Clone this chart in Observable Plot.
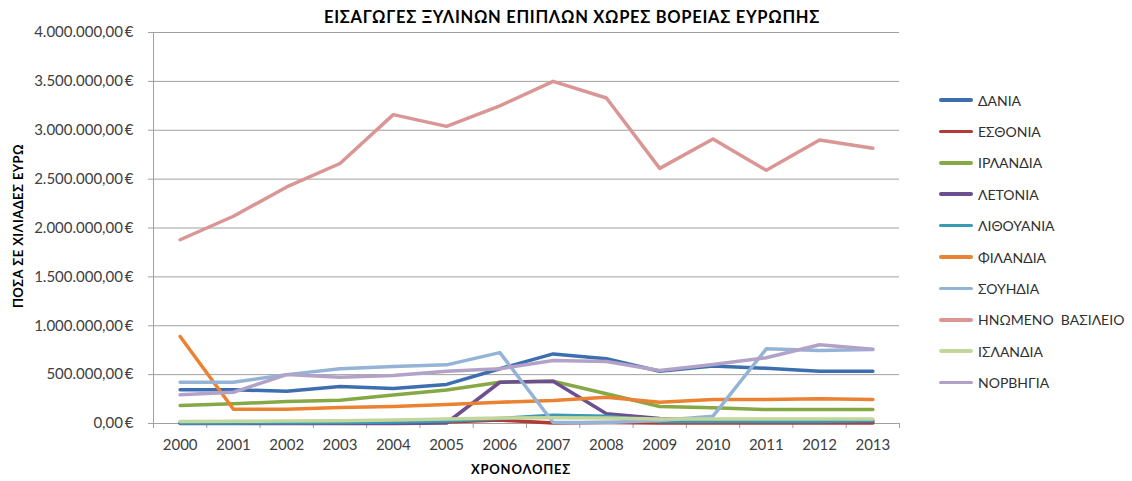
<!DOCTYPE html>
<html><head><meta charset="utf-8">
<script src="https://cdn.jsdelivr.net/npm/d3@7"></script>
<script src="https://cdn.jsdelivr.net/npm/@observablehq/plot@0.6"></script>
<style>
body{margin:0;background:#fff;}
#wrap{position:relative;width:1132px;height:481px;font-family:Lato,"Open Sans",sans-serif;overflow:hidden;}
#title{position:absolute;left:572px;top:17px;transform:translate(-50%,-50%);white-space:nowrap;font-weight:bold;font-size:16.5px;letter-spacing:0.7px;color:#000;}
#ytitle{position:absolute;left:18px;top:226px;transform:translate(-50%,-50%) rotate(-90deg);white-space:nowrap;font-weight:bold;font-size:13px;letter-spacing:0.4px;color:#000;}
#xtitle{position:absolute;left:521px;top:469px;transform:translate(-50%,-50%);white-space:nowrap;font-weight:bold;font-size:13px;letter-spacing:0.8px;color:#000;}
.leg{position:absolute;left:939px;height:20px;display:flex;align-items:center;font-size:14px;color:#303030;white-space:pre;}
.leg span.sw{display:inline-block;width:34px;height:3.5px;border-radius:2px;margin-right:5px;}
</style></head><body><div id="wrap"><div id="title">ΕΙΣΑΓΩΓΕΣ ΞΥΛΙΝΩΝ ΕΠΙΠΛΩΝ ΧΩΡΕΣ ΒΟΡΕΙΑΣ ΕΥΡΩΠΗΣ</div><div id="ytitle">ΠΟΣΑ ΣΕ ΧΙΛΙΑΔΕΣ ΕΥΡΩ</div><div id="xtitle">ΧΡΟΝΟΛΟΠΕΣ</div></div>
<script>
const years = [2000,2001,2002,2003,2004,2005,2006,2007,2008,2009,2010,2011,2012,2013];
const countries = ["ΔΑΝΙΑ","ΕΣΘΟΝΙΑ","ΙΡΛΑΝΔΙΑ","ΛΕΤΟΝΙΑ","ΛΙΘΟΥΑΝΙΑ","ΦΙΛΑΝΔΙΑ","ΣΟΥΗΔΙΑ","ΗΝΩΜΕΝΟ  ΒΑΣΙΛΕΙΟ","ΙΣΛΑΝΔΙΑ","ΝΟΡΒΗΓΙΑ"];
const colors = ["#3d6eae","#b23b38","#86a845","#6c4f90","#3a9ab4","#ea8231","#95b3d7","#d99694","#c3d69b","#b3a2c7"];
const denmark   = [345000,345000,330000,378000,358000,400000,560000,712000,662000,535000,588000,565000,535000,535000];
const estonia   = [5000,5000,5000,5000,8000,15000,35000,5000,10000,5000,5000,5000,5000,5000];
const ireland   = [184000,201000,225000,238000,292000,342000,422000,432000,304000,174000,160000,143000,143000,143000];
const latvia    = [0,0,0,0,0,5000,422000,432000,99000,50000,30000,20000,20000,20000];
const lithuania = [5000,6000,8000,10000,15000,25000,50000,85000,75000,20000,20000,20000,20000,30000];
const finland   = [890000,146000,146000,164000,174000,194000,218000,235000,269000,218000,245000,245000,252000,245000];
const sweden    = [422000,422000,500000,560000,583000,600000,725000,10000,10000,30000,75000,764000,746000,756000];
const uk        = [1880000,2120000,2420000,2660000,3160000,3040000,3250000,3500000,3330000,2610000,2910000,2590000,2900000,2815000];
const iceland   = [20000,22000,25000,28000,35000,45000,55000,60000,55000,45000,45000,45000,45000,45000];
const norway    = [293000,320000,500000,473000,491000,535000,560000,644000,634000,542000,603000,672000,805000,760000];
const yTicks = [0,500000,1000000,1500000,2000000,2500000,3000000,3500000,4000000];

const series = [denmark,estonia,ireland,latvia,lithuania,finland,sweden,uk,iceland,norway];
const data = [];
series.forEach((vals,i)=>vals.forEach((v,j)=>data.push({country:countries[i],year:years[j],value:v})));
const boundaries = years.map(y=>y-0.5).concat([years[years.length-1]+0.5]);

const loc = d3.formatLocale({decimal:",",thousands:".",grouping:[3],currency:["","\u2009€"]});
const fmt = loc.format("$,.2f");
const axisCol = "#a0a0a0";

const chart = Plot.plot({
  width:1132, height:481,
  marginLeft:153, marginRight:233, marginTop:32, marginBottom:58,
  x:{type:"linear", domain:[1999.5,2013.5]},
  y:{domain:[0,4000000]},
  color:{domain:countries, range:colors},
  style:{fontFamily:"Lato, sans-serif", fontSize:"15px", color:"#404040", background:"white"},
  marks:[
    Plot.gridY(yTicks,{stroke:axisCol, strokeOpacity:1}),
    Plot.axisY(yTicks,{tickSize:5, tickPadding:15, tickFormat:fmt, stroke:axisCol, fill:"#404040", label:null, fontSize:15}),
    Plot.axisX(boundaries,{tickSize:5, tickFormat:()=>"", stroke:axisCol, label:null}),
    Plot.axisX(years,{tickSize:0, tickPadding:16, tickFormat:d=>String(d), fill:"#404040", label:null, fontSize:15}),
    Plot.ruleX([1999.5],{stroke:axisCol}),
    Plot.ruleY([0],{stroke:axisCol}),
    Plot.line(data,{x:"year", y:"value", z:"country", stroke:"country", strokeWidth:3.5, strokeLinejoin:"round", strokeLinecap:"round"})
  ]
});
const wrap = document.getElementById("wrap");
chart.style.position="absolute"; chart.style.left="0"; chart.style.top="0";
wrap.insertBefore(chart, wrap.firstChild);
countries.forEach((c,i)=>{
  const d = document.createElement("div");
  d.className="leg";
  d.style.top = (100 + i*31.4 - 10) + "px";
  d.innerHTML = `<span class="sw" style="background:${colors[i]}"></span>${c}`;
  wrap.appendChild(d);
});
</script></body></html>
